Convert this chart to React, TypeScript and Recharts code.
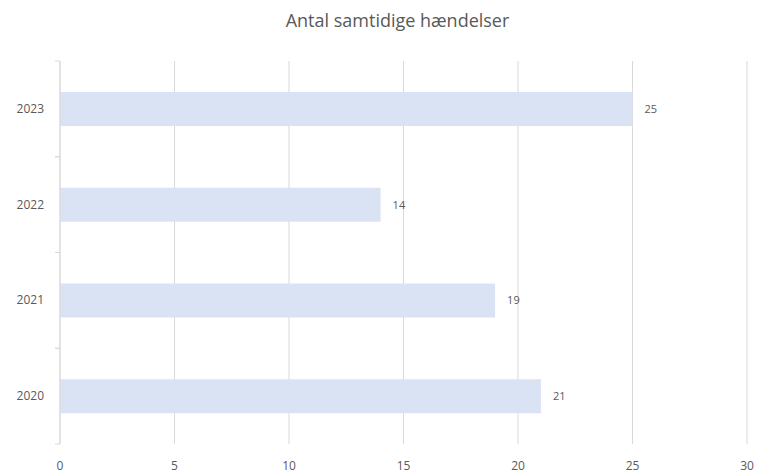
import React from "react";
import { BarChart, Bar, XAxis, YAxis, CartesianGrid, LabelList } from "recharts";

const years = ["2023", "2022", "2021", "2020"];
const counts = [25, 14, 19, 21];
const xTicks = [0, 5, 10, 15, 20, 25, 30];
const title = "Antal samtidige hændelser";

const data = years.map((y, i) => ({ year: y, value: counts[i] }));

const FONT = "'Open Sans', 'Liberation Sans', sans-serif";
const TXT = "#595959";
const GRID = "#d9d9d9";
const BAND_HALF = (444 - 61) / years.length / 2;

const YTick = (props: any) => {
  const { y, payload } = props;
  return (
    <g>
      <line x1={55} x2={60} y1={y - BAND_HALF} y2={y - BAND_HALF} stroke={GRID} />
      <line x1={55} x2={60} y1={y + BAND_HALF} y2={y + BAND_HALF} stroke={GRID} />
      <text x={44} y={y} dy={4} textAnchor="end" fill={TXT} fontSize={12} fontFamily={FONT}>
        {payload.value}
      </text>
    </g>
  );
};

const XTick = (props: any) => {
  const { x, y, payload } = props;
  return (
    <text x={x} y={y} dy={12} textAnchor="middle" fill={TXT} fontSize={12} fontFamily={FONT}>
      {payload.value}
    </text>
  );
};

export default function App() {
  return (
    <div style={{ position: "absolute", left: 0, top: 0, width: 758, height: 473, background: "#fff" }}>
      <div
        style={{
          position: "absolute",
          left: 0,
          top: 8,
          width: 795,
          textAlign: "center",
          fontFamily: FONT,
          fontSize: 18,
          color: TXT,
        }}
      >
        {title}
      </div>
      <BarChart
        width={758}
        height={473}
        data={data}
        layout="vertical"
        margin={{ top: 61, right: 11, bottom: 0, left: 0 }}
      >
        <CartesianGrid horizontal={false} stroke={GRID} />
        <XAxis
          type="number"
          domain={[0, 30]}
          ticks={xTicks}
          axisLine={false}
          tickLine={false}
          height={29}
          tick={<XTick />}
          tickMargin={8}
        />
        <YAxis
          type="category"
          dataKey="year"
          width={60}
          axisLine={{ stroke: GRID }}
          tickLine={false}
          tick={<YTick />}
        />
        <Bar dataKey="value" fill="#dae3f3" barSize={34} isAnimationActive={false}>
          <LabelList
            dataKey="value"
            position="right"
            offset={12}
            fill={TXT}
            fontSize={11}
            fontFamily={FONT}
          />
        </Bar>
      </BarChart>
    </div>
  );
}
